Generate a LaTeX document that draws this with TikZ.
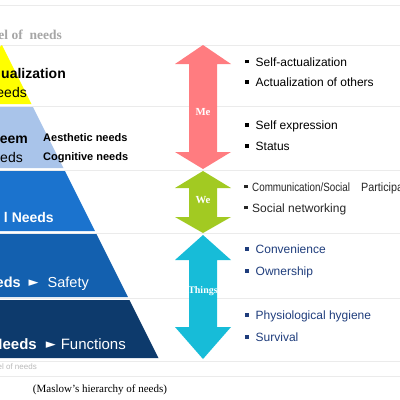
\documentclass[tikz,border=0pt]{standalone}
\usepackage{fontspec}
\setmainfont{Liberation Sans}
\newfontfamily\serifface{Liberation Serif}
\newfontfamily\symface{DejaVu Sans}
\usetikzlibrary{positioning}

\definecolor{lvlyellow}{HTML}{FFFF00}
\definecolor{lvllight}{HTML}{A9C4EA}
\definecolor{lvlmid}{HTML}{1B73CE}
\definecolor{lvldark}{HTML}{1360AF}
\definecolor{lvlnavy}{HTML}{0D3A6C}
\definecolor{mepink}{HTML}{FF7C80}
\definecolor{wegreen}{HTML}{A2CA22}
\definecolor{thingscyan}{HTML}{17BCD8}
\definecolor{listnavy}{HTML}{1F3D7C}
\definecolor{rulegray}{HTML}{EBEBEB}

\newcommand{\fs}[1]{\fontsize{#1}{#1}\selectfont}
\newcommand{\itm}{\makebox[12.5pt][l]{\kern2pt\rule[0.22em]{3.4pt}{3.4pt}}}
\newcommand{\tri}{\raisebox{0.5pt}{\symface\fs{13}►}}

\begin{document}
\begin{tikzpicture}[
    x=1pt, y=-1pt,
    lvltext/.style={anchor=base east, inner sep=0pt, font=\fs{14}},
    listitem/.style={anchor=base west, inner sep=0pt, font=\fs{12}},
    armlabel/.style={inner sep=0pt, text=white, font=\serifface\bfseries\fs{10.8}}
]
    \useasboundingbox (0,0) rectangle (400,400);
    \clip (0,0) rectangle (400,400);

    % thin separator lines
    \foreach \yy in {5,45,106,170,233,298,361,376}
        \draw[rulegray, line width=0.6pt] (0,\yy) -- (400,\yy);

    % pyramid layers
    \fill[lvlyellow] (2,45) -- (31.5,104) -- (-60,104) -- cycle;
    \fill[lvllight] (-80,107) -- (33,107) -- (63.5,168) -- (-80,168) -- cycle;
    \fill[lvlmid] (-80,171) -- (65,171) -- (95,231) -- (-80,231) -- cycle;
    \fill[lvldark] (-80,234) -- (96.5,234) -- (128,297) -- (-80,297) -- cycle;
    \fill[lvlnavy] (-80,300) -- (129.5,300) -- (158.5,358) -- (-80,358) -- cycle;

    \node[font=\serifface\bfseries\fs{13.5}, text=gray!70, anchor=base east, inner sep=0pt] (title) at (62,39) {el of~~needs};

    \node[lvltext, font=\bfseries\fs{14}] (selfa) at (66,78) {ualization};
    \node[lvltext] (selfb) at (27,97) {eeds};
    \node[lvltext, font=\bfseries\fs{14}] (estma) at (28,143) {eem};
    \node[lvltext] (estmb) at (23,162) {eds};
    \node[anchor=base west, inner sep=0pt, font=\bfseries\fs{11}] (aesth) at (43,141) {Aesthetic needs};
    \node[anchor=base west, inner sep=0pt, font=\bfseries\fs{11}] (cogn) at (43,160) {Cognitive needs};
    \node[lvltext, text=white, font=\bfseries\fs{14}] (social) at (54,222) {l Needs};
    \node[lvltext, text=white, font=\fs{14.5}] (safety) at (89,287) {\textbf{eds}\hspace{8pt}\tri\hspace{9pt}Safety};
    \node[lvltext, text=white, font=\fs{15}] (func) at (126,349) {\textbf{Needs}\hspace{9pt}\tri\hspace{5pt}Functions};

    \node[font=\fs{8}, text=gray!55, anchor=base east, inner sep=0pt] (foot) at (37,369) {el of needs};
    \node[font=\serifface\fs{11}, anchor=base, inner sep=0pt] (caption) at (100,392) {(Maslow’s hierarchy of needs)};

    % double arrows
    \foreach \yt/\yh/\yb/\ye/\col in {45/64/152/169/mepink, 171/188/217/233/wegreen, 235/260/327/359/thingscyan}
        \fill[\col] (203,\yt) -- (231,\yh) -- (217,\yh) -- (217,\yb) -- (231,\yb) -- (203,\ye)
            -- (175,\yb) -- (189,\yb) -- (189,\yh) -- (175,\yh) -- cycle;
    \node[armlabel] (me) at (203,112) {Me};
    \node[armlabel] (we) at (203,200) {We};
    \node[armlabel, font=\serifface\bfseries\fs{10}] (things) at (203,291) {Things};

    % lists
    \node[listitem] (l1) at (243,66) {\itm Self-actualization};
    \node[listitem] (l2) at (243,86.5) {\itm Actualization of others};
    \node[listitem] (l3) at (243,129.5) {\itm Self expression};
    \node[listitem] (l4) at (243,150.5) {\itm Status};
    \node[listitem, text=black!85] (l5) at (242,191) {\makebox[10pt][l]{\kern2pt\rule[0.22em]{3.4pt}{3.4pt}}\scalebox{0.82}[1]{Communication/Social}\hspace{11pt}\scalebox{0.9}[1]{Participation}};
    \node[listitem, text=black!85] (l6) at (242,212) {\makebox[10pt][l]{\kern2pt\rule[0.22em]{3.4pt}{3.4pt}}Social networking};
    \node[listitem, text=listnavy] (l7) at (243,253.5) {\itm Convenience};
    \node[listitem, text=listnavy] (l8) at (243,275.5) {\itm Ownership};
    \node[listitem, text=listnavy] (l9) at (243,319.5) {\itm Physiological hygiene};
    \node[listitem, text=listnavy] (l10) at (243,341.5) {\itm Survival};
\end{tikzpicture}
\end{document}
